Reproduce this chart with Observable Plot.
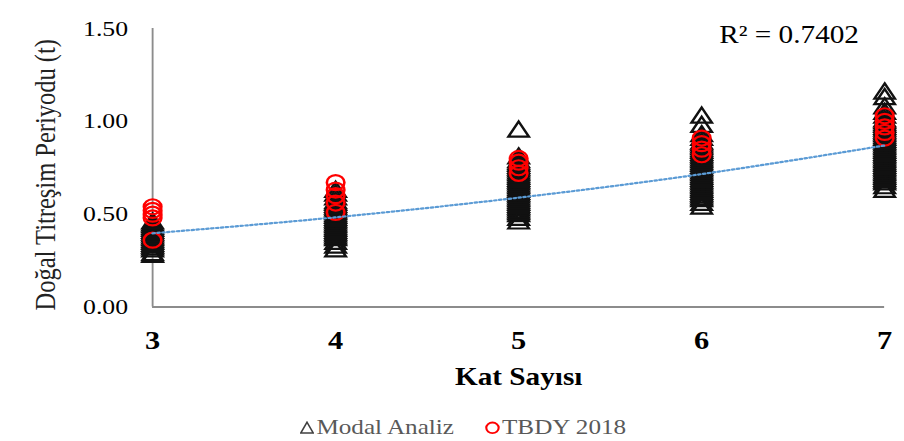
<!DOCTYPE html>
<html>
<head>
<meta charset="utf-8">
<script src="https://cdn.jsdelivr.net/npm/d3@7"></script>
<script src="https://cdn.jsdelivr.net/npm/@observablehq/plot@0.6"></script>
<style>
  html, body { margin: 0; padding: 0; background: #fff; }
  #wrap { width: 904px; height: 441px; overflow: hidden; background: #fff; }
  svg { display: block; }
</style>
</head>
<body>
<div id="wrap"></div>
<script>
// ---- data ----
const floors = [3, 4, 5, 6, 7];
const yTicks = [0, 0.5, 1.0, 1.5];
const seriesNames = ["Modal Analiz", "TBDY 2018"];
const xTitle = "Kat Sayısı";
const yTitle = "Doğal Titreşim Periyodu (t)";
const r2 = 0.7402;

// Modal Analiz periods (triangles), one list per floor count
const modal3 = [0.27, 0.28, 0.30, 0.31, 0.32, 0.33, 0.34, 0.35, 0.36, 0.37, 0.38, 0.39, 0.40, 0.41, 0.42, 0.43, 0.44, 0.45];
const modal4 = [0.30, 0.32, 0.34, 0.36, 0.37, 0.38, 0.39, 0.40, 0.41, 0.42, 0.43, 0.44, 0.45, 0.46, 0.47, 0.48, 0.49, 0.50, 0.51, 0.52, 0.53, 0.54, 0.55, 0.56, 0.58, 0.60, 0.62];
const modal5 = [0.45, 0.47, 0.49, 0.50, 0.51, 0.52, 0.53, 0.54, 0.55, 0.56, 0.57, 0.58, 0.59, 0.60, 0.61, 0.62, 0.63, 0.64, 0.65, 0.66, 0.67, 0.68, 0.69, 0.70, 0.71, 0.72, 0.73, 0.74, 0.75, 0.76, 0.77, 0.78, 0.80, 0.945];
const modal6 = [0.53, 0.55, 0.57, 0.58, 0.59, 0.60, 0.61, 0.62, 0.63, 0.64, 0.65, 0.66, 0.67, 0.68, 0.69, 0.70, 0.71, 0.72, 0.73, 0.74, 0.75, 0.76, 0.77, 0.78, 0.79, 0.80, 0.81, 0.82, 0.83, 0.84, 0.85, 0.86, 0.87, 0.88, 0.90, 0.92, 0.97, 1.02];
const modal7 = [0.62, 0.64, 0.66, 0.67, 0.68, 0.69, 0.70, 0.71, 0.72, 0.73, 0.74, 0.75, 0.76, 0.77, 0.78, 0.79, 0.80, 0.81, 0.82, 0.83, 0.84, 0.85, 0.86, 0.87, 0.88, 0.89, 0.90, 0.91, 0.92, 0.93, 0.94, 0.95, 0.96, 0.97, 0.98, 0.99, 1.00, 1.02, 1.04, 1.07, 1.12, 1.15];

// TBDY 2018 periods (circles)
const tbdy3 = [0.54, 0.52, 0.50, 0.48, 0.36];
const tbdy4 = [0.67, 0.63, 0.60, 0.56, 0.51];
const tbdy5 = [0.80, 0.78, 0.75, 0.72];
const tbdy6 = [0.91, 0.88, 0.85, 0.82];
const tbdy7 = [1.03, 1.00, 0.97, 0.94, 0.91];

// exponential trendline
const trendX = [3, 4, 5, 6, 7];
const trendY = [0.397, 0.483, 0.589, 0.716, 0.870];

// ---- build tables ----
const modalLists = [modal3, modal4, modal5, modal6, modal7];
const tbdyLists = [tbdy3, tbdy4, tbdy5, tbdy6, tbdy7];
const modal = floors.flatMap((f, i) => modalLists[i].map(v => ({floor: f, period: v})));
const tbdy = floors.flatMap((f, i) => tbdyLists[i].map(v => ({floor: f, period: v})));
const trend = trendX.map((x, i) => ({floor: x, period: trendY[i]}));

const FULL_W = 904;
const STRETCH = 1.17;
const W0 = Math.round(FULL_W / STRETCH);
const serif = "'Liberation Serif', 'Times New Roman', serif";
const axisColor = "#8c8c8c";

const chart = Plot.plot({
  width: W0,
  height: 405,
  marginLeft: 130,
  marginRight: W0 - 130 - Math.round((884 - 152) / STRETCH),
  marginTop: 28,
  marginBottom: 98.5,
  style: {fontFamily: serif, background: "white", color: "black", overflow: "visible"},
  x: {domain: [3, 7]},
  y: {domain: [0, 1.5]},
  marks: [
    Plot.axisY({ticks: yTicks, tickFormat: d => d.toFixed(2), tickSize: 0, tickPadding: 21, fontSize: 22, label: null}),
    Plot.axisX({ticks: floors, tickFormat: d => String(d), tickSize: 0, tickPadding: 24, fontSize: 26, fontWeight: "bold", label: null}),
    Plot.ruleX([3], {stroke: axisColor, strokeWidth: 1.6}),
    Plot.ruleY([0], {stroke: axisColor, strokeWidth: 2}),
    Plot.dot(modal, {x: "floor", y: "period", symbol: "triangle", r: 6.5, fill: "none", stroke: "#111", strokeWidth: 2.2}),
    Plot.dot(tbdy, {x: "floor", y: "period", symbol: "circle", r: 7.5, fill: "none", stroke: "#ff0000", strokeWidth: 2.2}),
    Plot.line(trend, {x: "floor", y: "period", curve: "natural", stroke: "#5b9bd5", strokeWidth: 2.2, strokeDasharray: "1.8,2.4"}),
    Plot.text([`R² = ${r2}`], {frameAnchor: "top-right", textAnchor: "end", lineAnchor: "middle", dx: -22, dy: 6, fontSize: 25, fill: "black"}),
    Plot.text([xTitle], {frameAnchor: "bottom", lineAnchor: "middle", dy: 70, fontSize: 25, fontWeight: "bold", fill: "black"}),
    Plot.text([yTitle], {frameAnchor: "left", rotate: -90, lineAnchor: "middle", textAnchor: "middle", dx: -91.5, dy: 7, fontSize: 24.5, fill: "#222"})
  ]
});
chart.setAttribute("width", FULL_W);
chart.setAttribute("preserveAspectRatio", "none");
chart.style.width = FULL_W + "px";
chart.style.height = "405px";
chart.style.maxWidth = "none";
document.getElementById("wrap").appendChild(chart);

// ---- legend below the svg ----
const legend = document.createElement("div");
legend.style.cssText = "position:relative;height:36px;";
const inner = document.createElement("div");
inner.style.cssText = `position:absolute;left:300px;top:4px;height:36px;display:flex;align-items:center;transform:scaleX(${STRETCH});transform-origin:left center;font-family:${serif};font-size:21.5px;color:#595959;white-space:nowrap;`;
const symbols = [
  `<svg width="12" height="13" style="margin-right:2px"><path d="M6,1.2 L11.3,12 L0.7,12 Z" fill="none" stroke="#404040" stroke-width="1.4"/></svg>`,
  `<svg width="13" height="13" style="margin-right:2px"><circle cx="6.5" cy="6.8" r="5.3" fill="none" stroke="#ff0000" stroke-width="1.8"/></svg>`
];
seriesNames.forEach((name, i) => {
  const item = document.createElement("span");
  item.style.cssText = `display:inline-flex;align-items:center;margin-right:${i === 0 ? 26 : 0}px;`;
  item.innerHTML = symbols[i] + `<span>${name}</span>`;
  inner.appendChild(item);
});
legend.appendChild(inner);
document.getElementById("wrap").appendChild(legend);
</script>
</body>
</html>
